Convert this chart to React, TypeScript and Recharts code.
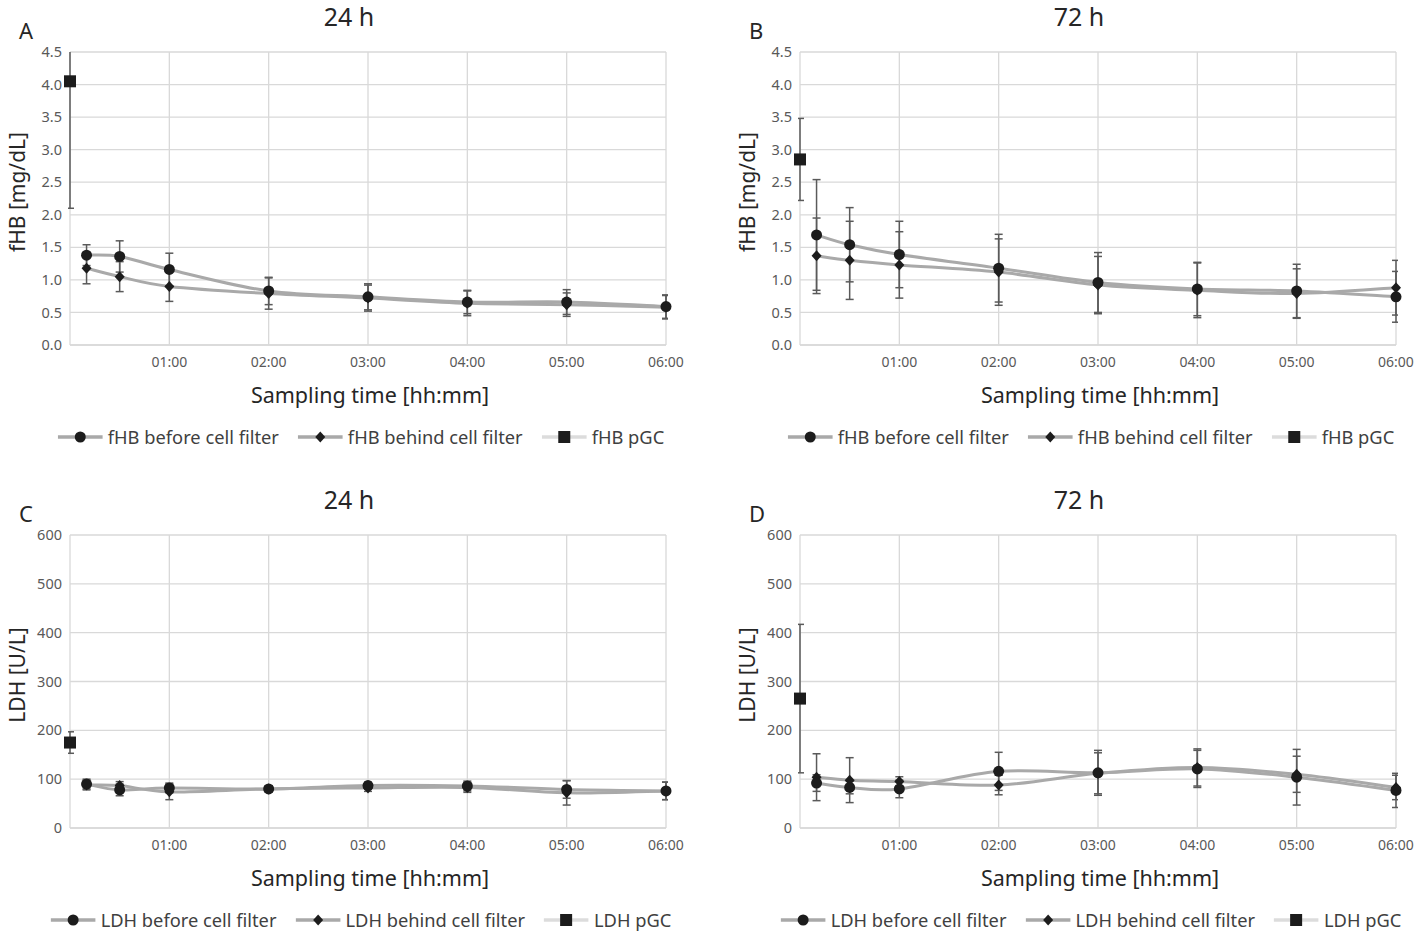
import React from "react";
import { LineChart, Line, XAxis, YAxis, CartesianGrid, ErrorBar } from "recharts";

// sampling times in minutes after start
const TIMES = [10, 30, 60, 120, 180, 240, 300, 360];
const X_TICKS = [0, 60, 120, 180, 240, 300, 360];
const X_TICK_LABELS = ["", "01:00", "02:00", "03:00", "04:00", "05:00", "06:00"];

const FHB_TICKS = [0, 0.5, 1, 1.5, 2, 2.5, 3, 3.5, 4, 4.5];
const LDH_TICKS = [0, 100, 200, 300, 400, 500, 600];

// A: fHB 24 h
const fhb24Before = [1.38, 1.36, 1.16, 0.83, 0.74, 0.66, 0.66, 0.59];
const fhb24BeforeErr = [0.16, 0.24, 0.25, 0.21, 0.2, 0.18, 0.19, 0.18];
const fhb24Behind = [1.18, 1.05, 0.9, 0.79, 0.72, 0.64, 0.62, 0.58];
const fhb24BehindErr = [0.24, 0.23, 0.23, 0.24, 0.2, 0.19, 0.18, 0.18];
const fhb24Pgc = 4.05;
const fhb24PgcErr = 1.95;

// B: fHB 72 h
const fhb72Before = [1.69, 1.54, 1.39, 1.18, 0.96, 0.86, 0.83, 0.74];
const fhb72BeforeErr = [0.85, 0.57, 0.51, 0.52, 0.46, 0.41, 0.41, 0.39];
const fhb72Behind = [1.37, 1.3, 1.23, 1.12, 0.92, 0.84, 0.79, 0.88];
const fhb72BehindErr = [0.58, 0.6, 0.51, 0.51, 0.44, 0.42, 0.38, 0.42];
const fhb72Pgc = 2.85;
const fhb72PgcErr = 0.63;

// C: LDH 24 h
const ldh24Before = [90, 78, 82, 80, 87, 86, 79, 76];
const ldh24BeforeErr = [10, 12, 10, 6, 7, 10, 18, 18];
const ldh24Behind = [88, 87, 74, 80, 82, 83, 72, 76];
const ldh24BehindErr = [10, 8, 16, 6, 7, 10, 25, 18];
const ldh24Pgc = 175;
const ldh24PgcErr = 22;

// D: LDH 72 h
const ldh72Before = [92, 83, 80, 116, 113, 121, 104, 77];
const ldh72BeforeErr = [17, 13, 18, 39, 46, 38, 57, 35];
const ldh72Behind = [104, 98, 95, 88, 112, 124, 110, 83];
const ldh72BehindErr = [48, 46, 10, 20, 42, 38, 37, 25];
const ldh72Pgc = 265;
const ldh72PgcErr = 152;

const FONT = "'Noto Sans', 'DejaVu Sans', sans-serif";
const LINE_GREY = "#a9a9a9";
const PGC_GREY = "#dcdcdc";
const MARK = "#1c1c1c";
const ERR = "#5a5a5a";

// chart frame
const CHART_W = 712;
const CHART_H = 466;
const MARGIN = { top: 52, right: 46, bottom: 91, left: 0 };
const Y_AXIS_W = 70;
const X_AXIS_H = 30;
const PLOT_X = MARGIN.left + Y_AXIS_W;
const PLOT_W = CHART_W - PLOT_X - MARGIN.right;
const PLOT_H = CHART_H - MARGIN.top - MARGIN.bottom - X_AXIS_H;

const toSeries = (vals: number[], errs: number[]) =>
  TIMES.map((t, i) => ({ t, v: vals[i], e: errs[i] }));

// Excel-like smoothed line (catmull-rom style bezier)
function smoothCurve(context: any) {
  let pts: number[][] = [];
  return {
    areaStart() {},
    areaEnd() {},
    lineStart() {
      pts = [];
    },
    point(x: number, y: number) {
      pts.push([+x, +y]);
    },
    lineEnd() {
      if (!pts.length) return;
      context.moveTo(pts[0][0], pts[0][1]);
      for (let i = 0; i < pts.length - 1; i++) {
        const p0 = pts[i - 1] || pts[i];
        const p1 = pts[i];
        const p2 = pts[i + 1];
        const p3 = pts[i + 2] || p2;
        context.bezierCurveTo(
          p1[0] + (p2[0] - p0[0]) / 6,
          p1[1] + (p2[1] - p0[1]) / 6,
          p2[0] - (p3[0] - p1[0]) / 6,
          p2[1] - (p3[1] - p1[1]) / 6,
          p2[0],
          p2[1]
        );
      }
    },
  };
}

const circleDot = (p: any) => (
  <circle key={`c-${p.index}`} cx={p.cx} cy={p.cy} r={5.5} fill={MARK} />
);
const diamondDot = (p: any) => (
  <polygon
    key={`d-${p.index}`}
    points={`${p.cx},${p.cy - 5.5} ${p.cx + 5},${p.cy} ${p.cx},${p.cy + 5.5} ${p.cx - 5},${p.cy}`}
    fill={MARK}
  />
);
const squareDot = (p: any) => (
  <rect key={`s-${p.index}`} x={p.cx - 6} y={p.cy - 6} width={12} height={12} fill={MARK} />
);

function LegendItem({ label, shape, color }: { label: string; shape: string; color: string }) {
  return (
    <div style={{ display: "flex", alignItems: "center", gap: 5 }}>
      <svg width={45} height={14}>
        <line x1={0} y1={7} x2={45} y2={7} stroke={color} strokeWidth={3.5} />
        {shape === "circle" && <circle cx={22.5} cy={7} r={5.5} fill={MARK} />}
        {shape === "diamond" && <polygon points="22.5,1.5 27.5,7 22.5,12.5 17.5,7" fill={MARK} />}
        {shape === "square" && <rect x={16.5} y={1} width={12} height={12} fill={MARK} />}
      </svg>
      <span>{label}</span>
    </div>
  );
}

interface PanelProps {
  left: number;
  top: number;
  letter: string;
  title: string;
  yLabel: string;
  prefix: string;
  yMax: number;
  yTicks: number[];
  decimals: number;
  before: number[];
  beforeErr: number[];
  behind: number[];
  behindErr: number[];
  pgc: number;
  pgcErr: number;
}

function Panel(props: PanelProps) {
  const beforeData = toSeries(props.before, props.beforeErr);
  const behindData = toSeries(props.behind, props.behindErr);
  const pgcData = [{ t: 0, v: props.pgc, e: props.pgcErr }];
  const clipId = `plotclip-${props.letter}`;

  return (
    <div
      className={`panel-${props.letter}`}
      style={{ position: "absolute", left: props.left, top: props.top, width: CHART_W, height: CHART_H }}
    >
      <style>{`.panel-${props.letter} .recharts-errorBars { clip-path: url(#${clipId}); }`}</style>
      <div style={{ position: "absolute", left: 19, top: 15, fontSize: 22, color: "#262626" }}>
        {props.letter}
      </div>
      <div
        style={{
          position: "absolute",
          left: 349,
          top: -1,
          transform: "translateX(-50%)",
          whiteSpace: "nowrap",
          fontSize: 25,
          color: "#262626",
        }}
      >
        {props.title}
      </div>
      <div
        style={{
          position: "absolute",
          left: 17,
          top: 192,
          transform: "translate(-50%, -50%) rotate(-90deg)",
          whiteSpace: "nowrap",
          fontSize: 21,
          color: "#262626",
        }}
      >
        {props.yLabel}
      </div>
      <LineChart
        width={CHART_W}
        height={CHART_H}
        margin={MARGIN}
        style={{ position: "absolute", left: 0, top: 0 }}
      >
        <defs>
          <clipPath id={clipId}>
            <rect x={PLOT_X - 2} y={MARGIN.top} width={PLOT_W + 4} height={PLOT_H} />
          </clipPath>
        </defs>
        <CartesianGrid stroke="#d9d9d9" strokeWidth={1.3} />
        <XAxis
          dataKey="t"
          type="number"
          domain={[0, 360]}
          ticks={X_TICKS}
          tickFormatter={(v: number) => X_TICK_LABELS[X_TICKS.indexOf(v)] ?? ""}
          tick={{ fontSize: 14, fill: "#595959", fontFamily: FONT }}
          tickLine={false}
          axisLine={{ stroke: "#d9d9d9", strokeWidth: 1.3 }}
          height={X_AXIS_H}
          tickMargin={6}
        />
        <YAxis
          type="number"
          domain={[0, props.yMax]}
          ticks={props.yTicks}
          allowDataOverflow
          tickFormatter={(v: number) => v.toFixed(props.decimals)}
          tick={{ fontSize: 14.5, fill: "#595959", fontFamily: FONT }}
          tickLine={false}
          axisLine={false}
          width={Y_AXIS_W}
          tickMargin={2}
        />
        <Line
          data={pgcData}
          dataKey="v"
          stroke={PGC_GREY}
          strokeWidth={3}
          dot={squareDot}
          isAnimationActive={false}
        >
          <ErrorBar dataKey="e" width={4} stroke={ERR} strokeWidth={1.5} isAnimationActive={false} />
        </Line>
        <Line
          data={behindData}
          dataKey="v"
          type={smoothCurve as any}
          stroke={LINE_GREY}
          strokeWidth={3}
          dot={diamondDot}
          isAnimationActive={false}
        >
          <ErrorBar dataKey="e" width={4} stroke={ERR} strokeWidth={1.5} isAnimationActive={false} />
        </Line>
        <Line
          data={beforeData}
          dataKey="v"
          type={smoothCurve as any}
          stroke={LINE_GREY}
          strokeWidth={3}
          dot={circleDot}
          isAnimationActive={false}
        >
          <ErrorBar dataKey="e" width={4} stroke={ERR} strokeWidth={1.5} isAnimationActive={false} />
        </Line>
      </LineChart>
      <div
        style={{
          position: "absolute",
          left: 370,
          top: 380,
          transform: "translateX(-50%)",
          fontSize: 21.5,
          color: "#262626",
          whiteSpace: "nowrap",
        }}
      >
        Sampling time [hh:mm]
      </div>
      <div
        style={{
          position: "absolute",
          left: 361,
          top: 424,
          transform: "translateX(-50%)",
          display: "flex",
          gap: 19,
          fontSize: 18.3,
          color: "#404040",
          whiteSpace: "nowrap",
        }}
      >
        <LegendItem label={`${props.prefix} before cell filter`} shape="circle" color={LINE_GREY} />
        <LegendItem label={`${props.prefix} behind cell filter`} shape="diamond" color={LINE_GREY} />
        <LegendItem label={`${props.prefix} pGC`} shape="square" color={PGC_GREY} />
      </div>
    </div>
  );
}

export default function App() {
  return (
    <div
      style={{
        position: "absolute",
        left: 0,
        top: 0,
        width: 1424,
        height: 932,
        background: "#fff",
        fontFamily: FONT,
        overflow: "hidden",
      }}
    >
      <Panel
        left={0}
        top={0}
        letter="A"
        title="24 h"
        yLabel="fHB [mg/dL]"
        prefix="fHB"
        yMax={4.5}
        yTicks={FHB_TICKS}
        decimals={1}
        before={fhb24Before}
        beforeErr={fhb24BeforeErr}
        behind={fhb24Behind}
        behindErr={fhb24BehindErr}
        pgc={fhb24Pgc}
        pgcErr={fhb24PgcErr}
      />
      <Panel
        left={730}
        top={0}
        letter="B"
        title="72 h"
        yLabel="fHB [mg/dL]"
        prefix="fHB"
        yMax={4.5}
        yTicks={FHB_TICKS}
        decimals={1}
        before={fhb72Before}
        beforeErr={fhb72BeforeErr}
        behind={fhb72Behind}
        behindErr={fhb72BehindErr}
        pgc={fhb72Pgc}
        pgcErr={fhb72PgcErr}
      />
      <Panel
        left={0}
        top={483}
        letter="C"
        title="24 h"
        yLabel="LDH [U/L]"
        prefix="LDH"
        yMax={600}
        yTicks={LDH_TICKS}
        decimals={0}
        before={ldh24Before}
        beforeErr={ldh24BeforeErr}
        behind={ldh24Behind}
        behindErr={ldh24BehindErr}
        pgc={ldh24Pgc}
        pgcErr={ldh24PgcErr}
      />
      <Panel
        left={730}
        top={483}
        letter="D"
        title="72 h"
        yLabel="LDH [U/L]"
        prefix="LDH"
        yMax={600}
        yTicks={LDH_TICKS}
        decimals={0}
        before={ldh72Before}
        beforeErr={ldh72BeforeErr}
        behind={ldh72Behind}
        behindErr={ldh72BehindErr}
        pgc={ldh72Pgc}
        pgcErr={ldh72PgcErr}
      />
    </div>
  );
}
